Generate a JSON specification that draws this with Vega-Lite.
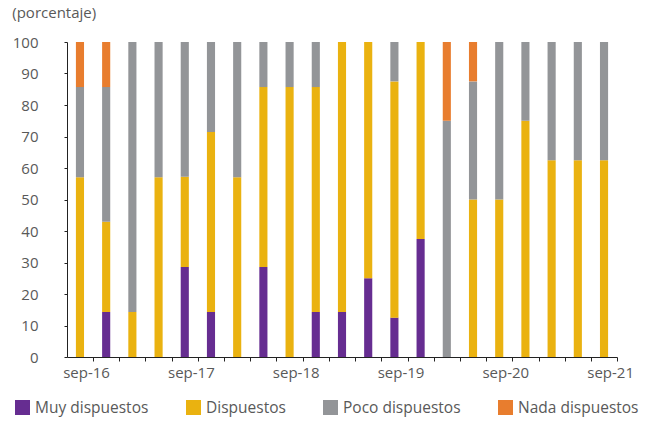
{
  "$schema": "https://vega.github.io/schema/vega-lite/v6.json",
  "width": 550,
  "height": 315,
  "padding": {"left": 12, "top": 6, "right": 5, "bottom": 5},
  "title": {
    "text": "(porcentaje)",
    "anchor": "start",
    "fontSize": 15,
    "fontWeight": "normal",
    "color": "#595959",
    "offset": 14
  },
  "config": {
    "font": "Open Sans",
    "view": {"stroke": null},
    "axis": {"grid": false}
  },
  "data": {
    "values": [
      {"t": "sep-16", "s": "Muy dispuestos", "v": 0},
      {"t": "sep-16", "s": "Dispuestos", "v": 57.1},
      {"t": "sep-16", "s": "Poco dispuestos", "v": 28.6},
      {"t": "sep-16", "s": "Nada dispuestos", "v": 14.3},
      {"t": "dic-16", "s": "Muy dispuestos", "v": 14.3},
      {"t": "dic-16", "s": "Dispuestos", "v": 28.6},
      {"t": "dic-16", "s": "Poco dispuestos", "v": 42.8},
      {"t": "dic-16", "s": "Nada dispuestos", "v": 14.3},
      {"t": "mar-17", "s": "Muy dispuestos", "v": 0},
      {"t": "mar-17", "s": "Dispuestos", "v": 14.3},
      {"t": "mar-17", "s": "Poco dispuestos", "v": 85.7},
      {"t": "mar-17", "s": "Nada dispuestos", "v": 0},
      {"t": "jun-17", "s": "Muy dispuestos", "v": 0},
      {"t": "jun-17", "s": "Dispuestos", "v": 57.1},
      {"t": "jun-17", "s": "Poco dispuestos", "v": 42.9},
      {"t": "jun-17", "s": "Nada dispuestos", "v": 0},
      {"t": "sep-17", "s": "Muy dispuestos", "v": 28.6},
      {"t": "sep-17", "s": "Dispuestos", "v": 28.6},
      {"t": "sep-17", "s": "Poco dispuestos", "v": 42.8},
      {"t": "sep-17", "s": "Nada dispuestos", "v": 0},
      {"t": "dic-17", "s": "Muy dispuestos", "v": 14.3},
      {"t": "dic-17", "s": "Dispuestos", "v": 57.1},
      {"t": "dic-17", "s": "Poco dispuestos", "v": 28.6},
      {"t": "dic-17", "s": "Nada dispuestos", "v": 0},
      {"t": "mar-18", "s": "Muy dispuestos", "v": 0},
      {"t": "mar-18", "s": "Dispuestos", "v": 57.1},
      {"t": "mar-18", "s": "Poco dispuestos", "v": 42.9},
      {"t": "mar-18", "s": "Nada dispuestos", "v": 0},
      {"t": "jun-18", "s": "Muy dispuestos", "v": 28.6},
      {"t": "jun-18", "s": "Dispuestos", "v": 57.1},
      {"t": "jun-18", "s": "Poco dispuestos", "v": 14.3},
      {"t": "jun-18", "s": "Nada dispuestos", "v": 0},
      {"t": "sep-18", "s": "Muy dispuestos", "v": 0},
      {"t": "sep-18", "s": "Dispuestos", "v": 85.7},
      {"t": "sep-18", "s": "Poco dispuestos", "v": 14.3},
      {"t": "sep-18", "s": "Nada dispuestos", "v": 0},
      {"t": "dic-18", "s": "Muy dispuestos", "v": 14.3},
      {"t": "dic-18", "s": "Dispuestos", "v": 71.4},
      {"t": "dic-18", "s": "Poco dispuestos", "v": 14.3},
      {"t": "dic-18", "s": "Nada dispuestos", "v": 0},
      {"t": "mar-19", "s": "Muy dispuestos", "v": 14.3},
      {"t": "mar-19", "s": "Dispuestos", "v": 85.7},
      {"t": "mar-19", "s": "Poco dispuestos", "v": 0},
      {"t": "mar-19", "s": "Nada dispuestos", "v": 0},
      {"t": "jun-19", "s": "Muy dispuestos", "v": 25},
      {"t": "jun-19", "s": "Dispuestos", "v": 75},
      {"t": "jun-19", "s": "Poco dispuestos", "v": 0},
      {"t": "jun-19", "s": "Nada dispuestos", "v": 0},
      {"t": "sep-19", "s": "Muy dispuestos", "v": 12.5},
      {"t": "sep-19", "s": "Dispuestos", "v": 75},
      {"t": "sep-19", "s": "Poco dispuestos", "v": 12.5},
      {"t": "sep-19", "s": "Nada dispuestos", "v": 0},
      {"t": "dic-19", "s": "Muy dispuestos", "v": 37.5},
      {"t": "dic-19", "s": "Dispuestos", "v": 62.5},
      {"t": "dic-19", "s": "Poco dispuestos", "v": 0},
      {"t": "dic-19", "s": "Nada dispuestos", "v": 0},
      {"t": "mar-20", "s": "Muy dispuestos", "v": 0},
      {"t": "mar-20", "s": "Dispuestos", "v": 0},
      {"t": "mar-20", "s": "Poco dispuestos", "v": 75},
      {"t": "mar-20", "s": "Nada dispuestos", "v": 25},
      {"t": "jun-20", "s": "Muy dispuestos", "v": 0},
      {"t": "jun-20", "s": "Dispuestos", "v": 50},
      {"t": "jun-20", "s": "Poco dispuestos", "v": 37.5},
      {"t": "jun-20", "s": "Nada dispuestos", "v": 12.5},
      {"t": "sep-20", "s": "Muy dispuestos", "v": 0},
      {"t": "sep-20", "s": "Dispuestos", "v": 50},
      {"t": "sep-20", "s": "Poco dispuestos", "v": 50},
      {"t": "sep-20", "s": "Nada dispuestos", "v": 0},
      {"t": "dic-20", "s": "Muy dispuestos", "v": 0},
      {"t": "dic-20", "s": "Dispuestos", "v": 75},
      {"t": "dic-20", "s": "Poco dispuestos", "v": 25},
      {"t": "dic-20", "s": "Nada dispuestos", "v": 0},
      {"t": "mar-21", "s": "Muy dispuestos", "v": 0},
      {"t": "mar-21", "s": "Dispuestos", "v": 62.5},
      {"t": "mar-21", "s": "Poco dispuestos", "v": 37.5},
      {"t": "mar-21", "s": "Nada dispuestos", "v": 0},
      {"t": "jun-21", "s": "Muy dispuestos", "v": 0},
      {"t": "jun-21", "s": "Dispuestos", "v": 62.5},
      {"t": "jun-21", "s": "Poco dispuestos", "v": 37.5},
      {"t": "jun-21", "s": "Nada dispuestos", "v": 0},
      {"t": "sep-21", "s": "Muy dispuestos", "v": 0},
      {"t": "sep-21", "s": "Dispuestos", "v": 62.5},
      {"t": "sep-21", "s": "Poco dispuestos", "v": 37.5},
      {"t": "sep-21", "s": "Nada dispuestos", "v": 0}
    ]
  },
  "transform": [
    {"calculate": "indexof(['Muy dispuestos', 'Dispuestos', 'Poco dispuestos', 'Nada dispuestos'], datum.s)", "as": "so"}
  ],
  "mark": {"type": "bar"},
  "encoding": {
    "x": {
      "field": "t",
      "type": "ordinal",
      "sort": null,
      "title": null,
      "scale": {"paddingInner": 0.69, "paddingOuter": 0.34},
      "axis": {
        "labelAngle": 0,
        "labelExpr": "indexof(datum.value, 'sep') == 0 ? datum.value : ''",
        "labelFontSize": 15,
        "labelColor": "#595959",
        "labelPadding": 4,
        "labelOverlap": false,
        "tickOffset": 13.1,
        "labelOffset": -7,
        "tickSize": 4,
        "tickColor": "#222222",
        "domainColor": "#222222"
      }
    },
    "y": {
      "field": "v",
      "type": "quantitative",
      "title": null,
      "scale": {"domain": [0, 100]},
      "axis": {
        "values": [0, 10, 20, 30, 40, 50, 60, 70, 80, 90, 100],
        "labelFontSize": 15,
        "labelColor": "#595959",
        "labelPadding": 26,
        "tickSize": 3,
        "tickColor": "#222222",
        "domainColor": "#222222"
      }
    },
    "order": {"field": "so", "type": "quantitative", "sort": "ascending"},
    "color": {
      "field": "s",
      "type": "nominal",
      "title": null,
      "sort": ["Muy dispuestos", "Dispuestos", "Poco dispuestos", "Nada dispuestos"],
      "scale": {
        "range": ["#662D91", "#EAB210", "#939598", "#E87D2E"]
      },
      "legend": {
        "orient": "none",
        "legendX": -53,
        "legendY": 357,
        "padding": 0,
        "direction": "horizontal",
        "symbolType": "square",
        "symbolSize": 225,
        "labelFontSize": 15.5,
        "labelOffset": 4,
        "labelColor": "#595959",
        "columnPadding": 36
      }
    }
  }
}
